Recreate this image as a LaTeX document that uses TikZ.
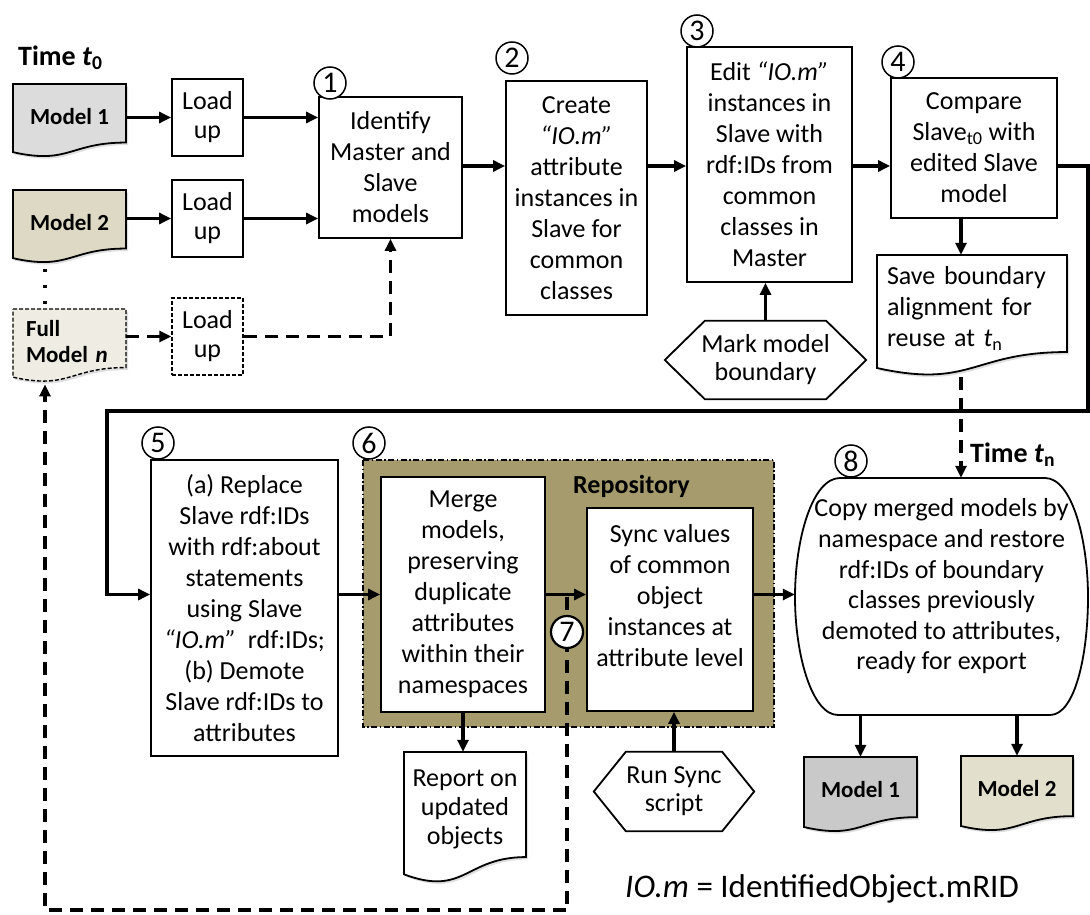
\documentclass[tikz,border=0pt]{standalone}
\usepackage{fontspec}
\setmainfont{Carlito}
\usetikzlibrary{arrows.meta,shadows,calc}
\pgfdeclarelayer{bg}
\pgfsetlayers{bg,main}
\definecolor{mgrayA}{HTML}{DCDCDC}
\definecolor{mtanA}{HTML}{DDD9C4}
\definecolor{mtanB}{HTML}{EFEDE3}
\definecolor{mgrayB}{HTML}{C9C9C9}
\definecolor{mtanC}{HTML}{E2DFCC}
\definecolor{repocol}{HTML}{A59B6C}
\newcommand\bodyfont{\fontsize{26}{31}\selectfont}
\newcommand\modfont{\fontsize{23}{26}\selectfont\bfseries}
\newcommand\docnode[8]{%
  \node[docnode, minimum width=#4pt, minimum height=0.88*#5, #7] (#1) at ({#2+0.5*#4},{#3+0.44*#5}) {#8};
  \begin{pgfonlayer}{bg}
  \path[docshape,#6] (#2,#3) -- ({#2+#4},#3) -- ({#2+#4},{#3+0.802*#5})
     .. controls ({#2+0.5*#4},{#3+0.802*#5}) and ({#2+0.5*#4},{#3+1.1075*#5}) .. (#2,{#3+0.934*#5}) -- cycle;
  \end{pgfonlayer}}
\tikzset{
  box/.style={draw, line width=1.8pt, fill=white, align=center, inner sep=0pt, font=\bodyfont},
  docnode/.style={inner sep=0pt, align=center},
  docshape/.style={draw, line width=1.8pt, drop shadow={opacity=0.25, shadow xshift=2pt, shadow yshift=-2.5pt}},
  arr/.style={line width=3.6pt, -{Triangle[length=12pt,width=11pt]}},
  darr/.style={arr, dash pattern=on 13pt off 8pt},
  dotline/.style={line width=3.5pt, dash pattern=on 3.5pt off 12.5pt},
  thindash/.style={dash pattern=on 4pt off 2pt, line width=1.4pt},
  circnum/.style={circle, draw, fill=white, line width=1.5pt, minimum size=32pt, inner sep=0pt, font=\fontsize{30}{30}\selectfont},
  hexnode/.style={inner sep=0pt, align=center, font=\fontsize{26}{28}\selectfont},
  hexline/.style={draw, line width=1.8pt},
  timelbl/.style={anchor=west, inner sep=0pt, font=\fontsize{28}{30}\selectfont\bfseries},
}
\begin{document}
\begin{tikzpicture}[x=1pt,y=-1pt]
\useasboundingbox (0,0) rectangle (1090,915);

% helper coordinates
\coordinate (rowY) at (0,166);
\coordinate (xD) at (45,0);
\coordinate (xS) at (961,0);
\coordinate (loopR) at (1088,411);
\coordinate (loopL) at (107,411);
\coordinate (cornerBR) at (567,910);
\coordinate (cornerBL) at (45,910);

% time label
\node[timelbl] (t0) at (18,58) {Time \textit{t}\textsubscript{0}};

% input documents
\docnode{m1}{13}{84}{113}{73}{fill=mgrayA}{font=\modfont}{Model 1}
\docnode{m2}{13}{190}{113}{73}{fill=mtanA}{font=\modfont}{Model 2}
\docnode{fm}{13}{309}{113}{73}{fill=mtanB,thindash}{font=\modfont, text width=87pt, align=left}{Full\\Model \textit{n}}

% load up boxes
\node[box, minimum width=71pt, minimum height=77pt, font=\fontsize{26}{29}\selectfont] (lu1) at (207.5,117.5) {Load\\up};
\node[box, minimum width=71pt, minimum height=77pt, font=\fontsize{26}{29}\selectfont] (lu2) at (207.5,218.5) {Load\\up};
\node[box, thindash, minimum width=71pt, minimum height=77pt, font=\fontsize{26}{29}\selectfont] (lu3) at (207.5,336.5) {Load\\up};

% main boxes top row
\node[box, minimum width=143pt, minimum height=141pt] (b1) at (390.5,167.5) {Identify\\Master and\\Slave\\models};
\node[box, minimum width=141pt, minimum height=234pt] (b2) at (576.5,198) {Create\\\textit{“IO.m”}\\attribute\\instances in\\Slave for\\common\\classes};
\node[box, minimum width=165pt, minimum height=235pt] (b3) at (769.5,164.5) {Edit \textit{“IO.m”}\\instances in\\Slave with\\rdf:IDs from\\common\\classes in\\Master};
\node[box, minimum width=166pt, minimum height=140pt] (b4) at (974,148) {Compare\\Slave\textsubscript{t0} with\\edited Slave\\model};

% mark hexagon
\node[hexnode, minimum width=201pt, minimum height=78pt] (mark) at (765.5,360) {Mark model\\boundary};
\draw[hexline] ([xshift=40pt]mark.north west) -- ([xshift=-40pt]mark.north east) -- (mark.east)
  -- ([xshift=-40pt]mark.south east) -- ([xshift=40pt]mark.south west) -- (mark.west) -- cycle;

% save doc
\docnode{save}{877}{255}{190}{121}{fill=white}{font=\bodyfont, text width=170pt, align=left}{Save boundary\\alignment for\\reuse at \textit{t}\textsubscript{n}}

% second row
\node[box, minimum width=187pt, minimum height=296pt] (b5) at (244.5,608) {(a) Replace\\Slave rdf:IDs\\with rdf:about\\statements\\using Slave\\\textit{“IO.m”}\ \ rdf:IDs;\\(b) Demote\\Slave rdf:IDs to\\attributes};

\begin{pgfonlayer}{bg}
\path[fill=repocol, draw, line width=1.3pt, dash pattern=on 6pt off 2.5pt on 1.5pt off 2.5pt] (363,460) rectangle (774,727);
\end{pgfonlayer}
\node[anchor=west, inner sep=0pt, font=\fontsize{26}{30}\selectfont\bfseries] (repo) at (573,486) {Repository};

\node[box, minimum width=164pt, minimum height=235pt] (merge) at (463,594.5) {Merge\\models,\\preserving\\duplicate\\attributes\\within their\\namespaces};
\node[box, minimum width=166pt, minimum height=203pt] (sync) at (670,609.5) {};
\node[inner sep=0pt, align=center, font=\bodyfont] (synct) at (670,596) {Sync values\\of common\\object\\instances at\\attribute level};

% node 8 shape
\node[minimum width=293pt, minimum height=237pt, inner sep=0pt] (n8) at (941.5,596.5) {};
\draw[line width=1.8pt, fill=white] (840,478) -- (1045,478)
   .. controls (1072,478) and (1088,540) .. (1088,597)
   .. controls (1088,655) and (1075,715) .. (1050,715) -- (838,715)
   .. controls (812,715) and (795,655) .. (795,597)
   .. controls (795,540) and (812,478) .. (840,478) -- cycle;
\node[inner sep=0pt, align=center, font=\fontsize{26}{30.6}\selectfont] (n8t) at (941.5,586.5) {Copy merged models by\\namespace and restore\\rdf:IDs of boundary\\classes previously\\demoted to attributes,\\ready for export};

\node[timelbl] (tn) at (970,455) {Time \textit{t}\textsubscript{n}};

% bottom items
\docnode{report}{404}{752}{122}{131}{fill=white}{font=\fontsize{26}{29}\selectfont}{Report on\\updated\\objects}
\node[hexnode, minimum width=160pt, minimum height=79pt] (runsync) at (674,791.5) {Run Sync\\script};
\draw[hexline] ([xshift=32pt]runsync.north west) -- ([xshift=-32pt]runsync.north east) -- (runsync.east)
  -- ([xshift=-32pt]runsync.south east) -- ([xshift=32pt]runsync.south west) -- (runsync.west) -- cycle;
\docnode{out1}{804}{757}{113}{75}{fill=mgrayB}{font=\modfont}{Model 1}
\docnode{out2}{961}{756}{112}{75}{fill=mtanC}{font=\modfont}{Model 2}

\node[anchor=west, inner sep=0pt, font=\fontsize{33}{36}\selectfont] (io) at (625,889) {\textit{IO.m} = IdentifiedObject.mRID};

% connectors
\draw[dotline] ($(xD |- m2.south)+(0,14.5)$) -- (xD |- fm.north);
\draw[arr] (lu1.west -| m1.east) -- (lu1.west);
\draw[arr] (lu2.west -| m2.east) -- (lu2.west);
\draw[darr] (lu3.west -| fm.east) -- (lu3.west);
\draw[arr] (lu1.east) -- (lu1.east -| b1.west);
\draw[arr] (lu2.east) -- (lu2.east -| b1.west);
\draw[darr] (lu3.east) -| (b1.south);
\draw[arr] (b1.east |- rowY) -- (b2.west |- rowY);
\draw[arr] (b2.east |- rowY) -- (b3.west |- rowY);
\draw[arr] (b3.east |- rowY) -- (b4.west |- rowY);
\draw[arr] (mark.north) -- (mark.north |- b3.south);
\draw[arr] (xS |- b4.south) -- (xS |- save.north);
\draw[arr] (b4.east |- rowY) -| (loopR) -- (loopL) |- (b5.west |- merge.west);
\draw[darr] ($(xS |- save.south)+(0,15)$) -- (xS |- n8.north);
\draw[arr] (b5.east |- merge.west) -- (merge.west);
\draw[arr] (merge.east) -- (merge.east -| sync.west);
\draw[arr] (sync.east |- merge.east) -- (n8.west |- merge.east);
\draw[arr] (merge.south) -- (merge.south |- report.north);
\draw[arr] (runsync.north) -- (runsync.north |- sync.south);
\draw[arr] (n8.south -| out1.north) -- (out1.north);
\draw[arr] (n8.south -| out2.north) -- (out2.north);
\draw[darr] ($(cornerBR |- merge.east)+(0,2)$) -- (cornerBR) -- (cornerBL) -- ($(cornerBL |- fm.south)+(0,11)$);

% step numbers
\node[circnum] (c1) at (330,83) {1};
\node[circnum] (c2) at (512,58) {2};
\node[circnum] (c3) at (697,31) {3};
\node[circnum] (c4) at (898,62) {4};
\node[circnum] (c5) at (158,443) {5};
\node[circnum] (c6) at (369,443) {6};
\node[circnum, line width=2.2pt] (c7) at (567,632) {7};
\node[circnum] (c8) at (851,461) {8};
\end{tikzpicture}
\end{document}
